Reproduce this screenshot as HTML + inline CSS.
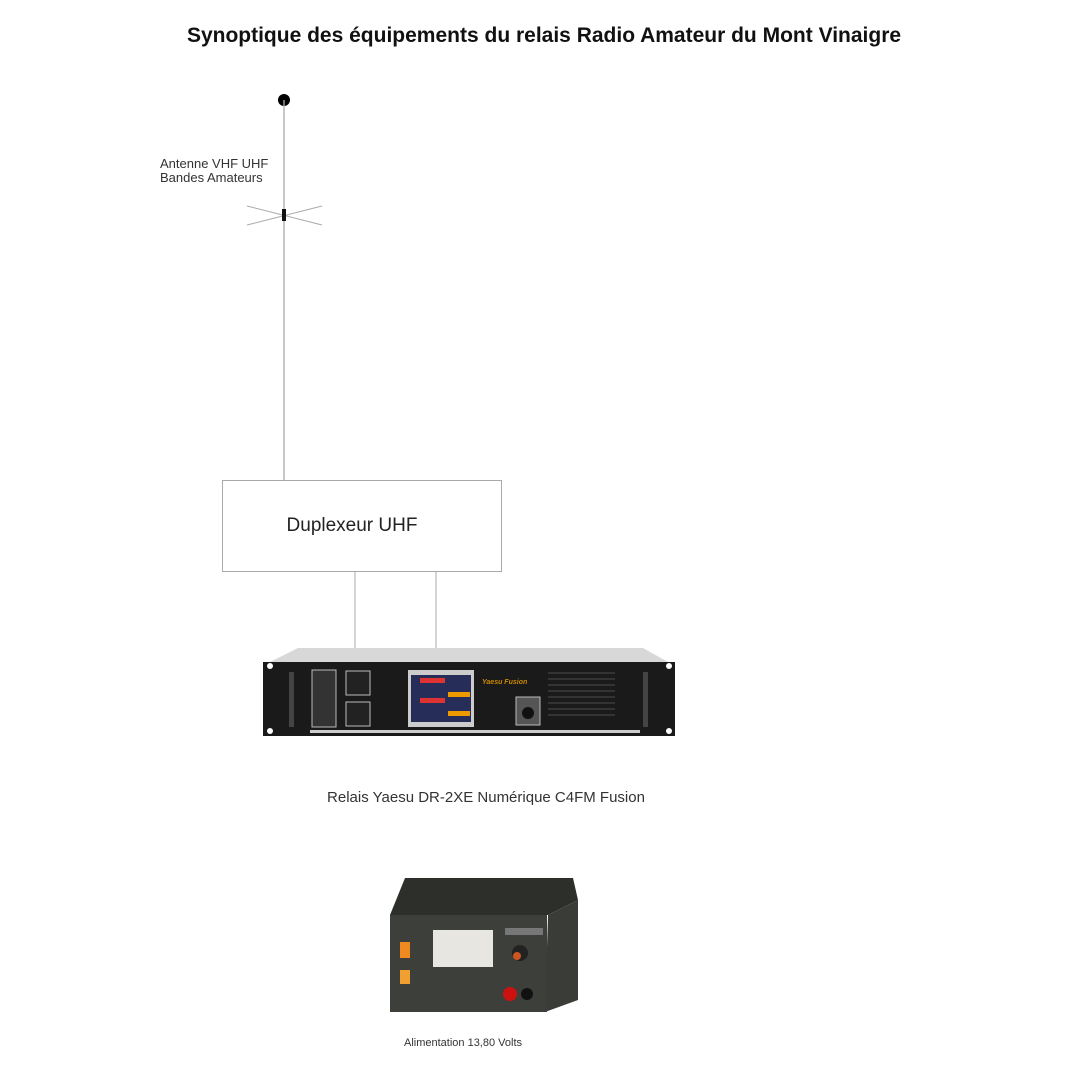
<!DOCTYPE html>
<html><head><meta charset="utf-8"><style>
body{margin:0;width:1080px;height:1080px;background:#fff;position:relative;overflow:hidden;font-family:"Liberation Sans",sans-serif;}
.t{position:absolute;white-space:nowrap;color:#111;z-index:2;}
</style></head><body>
<div class="t" style="left:0;width:1088px;text-align:center;top:24px;font-size:21px;font-weight:bold;">Synoptique des équipements du relais Radio Amateur du Mont Vinaigre</div>
<div class="t" style="left:160px;top:157px;font-size:13px;line-height:14px;color:#333;">Antenne VHF UHF<br>Bandes Amateurs</div>
<div class="t" style="left:222px;width:260px;text-align:center;top:515px;font-size:19px;color:#222;">Duplexeur UHF</div>
<div class="t" style="left:280px;width:412px;text-align:center;top:789px;font-size:15px;color:#333;">Relais Yaesu DR-2XE Numérique C4FM Fusion</div>
<div class="t" style="left:380px;width:166px;text-align:center;top:1037px;font-size:11px;color:#333;">Alimentation 13,80 Volts</div>
<svg width="1080" height="1080" style="position:absolute;left:0;top:0;z-index:1">
<circle cx="284" cy="100" r="6" fill="#000"/>
<line x1="284" y1="100" x2="284" y2="480" stroke="#aaa" stroke-width="1.3"/>
<line x1="247" y1="206" x2="322" y2="225" stroke="#aaa"/>
<line x1="247" y1="225" x2="322" y2="206" stroke="#aaa"/>
<rect x="282" y="209" width="4" height="12" fill="#111"/>
<rect x="222.5" y="480.5" width="279" height="91" fill="none" stroke="#aaa"/>
<line x1="355" y1="572" x2="355" y2="648" stroke="#aaa"/>
<line x1="436" y1="572" x2="436" y2="648" stroke="#aaa"/>
<polygon points="298,648 643,648 668,662 270,662" fill="#d8d8d8"/>
<rect x="263" y="662" width="412" height="74" fill="#1a1a1a"/>
<circle cx="270" cy="666" r="3" fill="#fff"/><circle cx="669" cy="666" r="3" fill="#fff"/>
<circle cx="270" cy="731" r="3" fill="#fff"/><circle cx="669" cy="731" r="3" fill="#fff"/>
<rect x="289" y="672" width="5" height="55" fill="#444"/><rect x="643" y="672" width="5" height="55" fill="#444"/>
<rect x="312" y="670" width="24" height="57" fill="#333" stroke="#bbb"/>
<rect x="346" y="671" width="24" height="24" fill="#222" stroke="#bbb"/>
<rect x="346" y="702" width="24" height="24" fill="#222" stroke="#bbb"/>
<rect x="408" y="670" width="66" height="57" fill="#ccc"/>
<rect x="411" y="675" width="60" height="47" fill="#262d58"/>
<rect x="420" y="678" width="25" height="5" fill="#d33"/><rect x="448" y="692" width="22" height="5" fill="#e90"/>
<rect x="420" y="698" width="25" height="5" fill="#d33"/><rect x="448" y="711" width="22" height="5" fill="#e90"/>
<text x="482" y="684" font-size="7" fill="#c80" font-style="italic" font-weight="bold" font-family="Liberation Sans">Yaesu Fusion</text>
<rect x="516" y="697" width="24" height="28" fill="#555" stroke="#bbb"/>
<circle cx="528" cy="713" r="6" fill="#111"/>
<g stroke="#333" stroke-width="2">
<line x1="548" y1="673" x2="615" y2="673"/><line x1="548" y1="679" x2="615" y2="679"/><line x1="548" y1="685" x2="615" y2="685"/><line x1="548" y1="691" x2="615" y2="691"/><line x1="548" y1="697" x2="615" y2="697"/><line x1="548" y1="703" x2="615" y2="703"/><line x1="548" y1="709" x2="615" y2="709"/><line x1="548" y1="715" x2="615" y2="715"/>
</g>
<rect x="310" y="730" width="330" height="3" fill="#ccc"/>
<polygon points="405,878 573,878 578,900 548,915 390,915" fill="#2d2f2b"/>
<polygon points="548,915 578,900 578,1000 545,1012" fill="#3a3c37"/>
<rect x="390" y="915" width="157" height="97" fill="#3d403a"/>
<rect x="433" y="930" width="60" height="37" fill="#e8e6e0"/>
<rect x="400" y="942" width="10" height="16" fill="#f08a20"/>
<rect x="400" y="970" width="10" height="14" fill="#f0a030"/>
<circle cx="520" cy="953" r="8" fill="#222"/><circle cx="517" cy="956" r="4" fill="#c52"/>
<rect x="505" y="928" width="38" height="7" fill="#777"/>
<circle cx="510" cy="994" r="7" fill="#c11"/><circle cx="527" cy="994" r="6" fill="#111"/>
</svg>
</body></html>
